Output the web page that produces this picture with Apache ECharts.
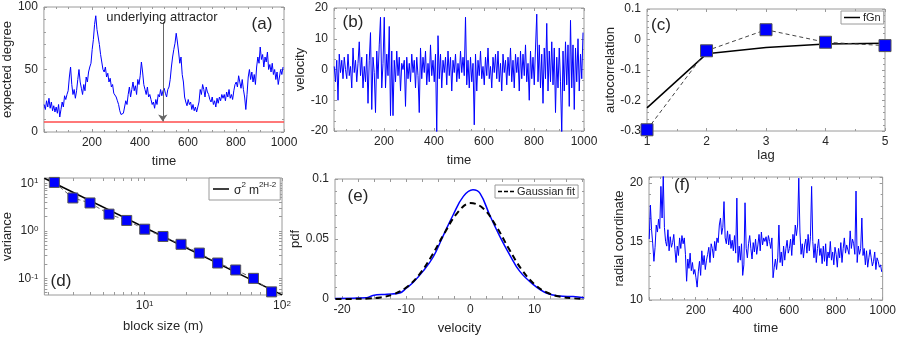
<!DOCTYPE html>
<html>
<head>
<meta charset="utf-8">
<script src="https://cdn.jsdelivr.net/npm/echarts@6/dist/echarts.min.js"></script>
<style>
  html, body { margin: 0; padding: 0; background: #fff; }
  #main { width: 899px; height: 338px; }
</style>
</head>
<body>
<div id="main"></div>
<script>
var font = 'Liberation Sans, Arial, sans-serif';
var ink = '#262626';
var boxGrey = '#9a9a9a';
var blue = '#0000ff';

// (a) expected degree, one value every 5 time steps
var degree = [
  22,18,25,20,27,19,24,17,21,16, 20,15,22,12,18,24,20,29,26,30,
  33,44,52,38,30,34,27,33,42,50, 40,35,30,38,33,44,40,48,52,55,
  66,74,86,93,82,76,70,62,56,50, 48,52,44,47,40,43,36,38,31,30,
  28,25,22,17,14,13,15,20,25,22, 30,36,28,34,40,33,37,30,42,38,
  45,56,48,38,34,30,36,28,30,26, 22,24,19,26,22,30,28,34,29,33,
  35,31,28,34,36,42,52,60,66,71, 79,72,64,55,60,46,40,28,24,21,
  26,22,24,18,22,17,20,16,20,24, 34,30,38,34,28,36,32,30,26,24,
  28,22,25,20,27,23,28,25,30,27, 30,25,32,28,34,27,30,26,33,38,
  40,36,45,40,35,42,34,28,18,30, 44,50,42,48,40,46,38,52,60,55,
  68,58,62,52,60,56,64,50,54,48, 55,46,50,42,48,38,44,50,46,52
];
var attractor = 8;
var arrowTime = 495, arrowTop = 88, arrowTip = 8.5;

// (b) velocity
var velocity = [
  1,-4,3,-10,5,-1,3,-3,4,0, -3,5,-2,1,-6,7,-1,3,-4,2,
  9,-2,4,-6,1,-4,5,-11,3,12, -13,4,-1,-14,6,-3,8,17,-6,2,
  17,-6,5,-2,14,-15,6,-15,3,-4, 6,-2,4,-7,2,0,3,-12,4,-3,
  2,-4,5,-1,3,-6,4,-2,-14,7, -3,4,-1,6,-5,2,-4,8,-2,3,
  -4,5,-21,11,-3,5,-6,3,-1,4, -5,6,-2,4,-7,3,-1,5,-4,2,
  -3,6,-1,4,-2,17,-5,3,-6,4, -4,2,-18,5,-7,3,-2,6,-3,1,
  -5,4,-2,7,-3,1,-6,4,-1,5, -3,6,-4,2,-7,5,-1,3,-5,4,
  -2,7,-4,3,-6,5,-1,4,-7,6, -3,5,-2,8,-4,2,-10,6,-3,4,
  -5,7,18,-4,8,-6,5,-11,7,-3, 15,-7,6,-4,9,-5,7,-14,4,-6,
  7,-4,-21,6,-7,9,-5,8,-12,16, -6,8,-13,7,-4,10,-7,5,-3,12
];

// (c) autocorrelation
var lags = [1, 2, 3, 4, 5];
var acfData = [-0.296, -0.037, 0.032, -0.009, -0.02];
var acfFgn = [-0.224, -0.047, -0.026, -0.015, -0.012];

// (d) aggregated variance
var blockSize = [2.2, 3.0, 4.0, 5.5, 7.4, 10, 13.6, 18.4, 25, 34, 46, 62, 84];
var blockVar = [10.4, 4.9, 3.85, 2.24, 1.65, 1.08, 0.76, 0.52, 0.34, 0.21, 0.15, 0.10, 0.052];
var fitSize = [1.86, 100];
var fitVar = [12.7, 0.045];

// (e) velocity pdf
var pdfVel = [-21.1,-16.2,-15.2,-13,-11,-10,-8.9,-7.4,-5.8,-4.3,-2.7,-1.1,0.4,1.5,3,4.6,6.1,7.7,9.8,11.8,13.9,16,17.7];
var pdfVal = [0.0005,0.001,0.003,0.004,0.005,0.009,0.014,0.023,0.035,0.052,0.070,0.0855,0.091,0.088,0.070,0.052,0.037,0.023,0.012,0.005,0.0025,0.002,0.001];
var gaussVel = [-21,-18,-16,-14,-12,-10,-8,-6,-4,-2,0,2,4,6,8,10,12,14,16,17.7];
var gaussVal = [0.00001,0.0001,0.0004,0.0013,0.0039,0.0096,0.0202,0.0362,0.0553,0.072,0.0799,0.0755,0.0608,0.0418,0.0244,0.0122,0.0052,0.0019,0.0006,0.0002];

// (f) radial coordinate
var radial = [
  15.2,18.1,16,14.8,13.3,14.5,16.4,15.8,16.9,16.1, 19.7,17,20.6,16.2,15,14.6,16,14.2,15.4,14.5,
  14.9,15.6,14.3,13.2,14.6,13.8,15.3,14.4,15.5,14.8, 15.3,13.9,11.6,13.5,12.7,14,12.5,13.2,12.2,12.6,
  11.9,11.1,12.4,13.3,12.1,14.2,13,13.8,12.6,13.4, 13.9,14.5,13.2,14.8,14.4,13.6,15,14.2,15.3,14.9,
  16.4,17,15.6,16.2,18.4,15.3,14.8,15.9,14.7,15.6, 14.4,15.1,14.2,15.5,14,18.7,13.2,14.6,13.4,14.8,
  12.1,13,18.3,14.4,13.6,14.8,15.5,14.4,13.5,14.9, 14.1,15.2,13.9,14.7,15.6,14.2,15.8,14.7,15.3,15,
  15.4,14.6,15.5,15,14.4,15.3,11.9,12.8,13.5,12.6, 13.6,16.4,13.2,14.1,12.9,14.6,13.4,14.4,15.1,14,
  14.4,15.2,13.8,15.6,14.7,16.4,15.5,16.4,20.4,15.8, 13.9,14.8,13.6,14.7,15.2,14,15.6,14.2,15.4,19.7,
  15,13.6,14.8,13.2,14.4,15.2,13.8,14.4,13.1,14.6, 13.3,14.8,12.9,14.1,13.6,15,13.4,14.1,13,14.5,
  13.9,12.8,14.4,13.6,14.9,13.2,14.4,15.3,14,14.7, 14.7,13.9,15.9,14.4,15.2,14.8,13.9,19.3,13.2,14.6,
  13.9,14.4,17,13.8,14.4,13,14.2,12.8,13.6,14.3, 13.6,12.9,13.3,14.1,12.6,13.6,13.3,12.8,13,12.4
];

var velTicks = [-20, -10, 0, 10];
var velMinor = [-20, -17.5, -15, -12.5, -10, -7.5, -5, -2.5, 0, 2.5, 5, 7.5, 10, 12.5, 15, 17.5];
var logLabelsX = [1, 2];
var logLabelsY = [-1, 0, 1];

function timed(vals) {
  return vals.map(function (v, i) { return [1 + 5 * i, v]; });
}
function pairs(xs, ys) {
  return xs.map(function (x, i) { return [x, ys[i]]; });
}
function logPairs(xs, ys) {
  return xs.map(function (x, i) { return [Math.log10(x), Math.log10(ys[i])]; });
}
// log10 positions of the minor ticks of a log axis inside [lo, hi]
function logTicks(lo, hi) {
  var out = [];
  for (var e = -2; e <= 2; e++) {
    for (var k = 1; k <= 9; k++) {
      var v = Math.log10(k) + e;
      if (v >= lo && v <= hi) out.push(v);
    }
  }
  return out;
}
var supRich = { sup: { fontSize: 8, verticalAlign: 'top', lineHeight: 10, fontFamily: font, color: ink } };
function powLabel(v) { return '10{sup|' + Math.round(v) + '}'; }
function plainLabel(v) { return String(v); }

function axisPair(dim, gi, o) {
  function make(mirror) {
    var ax = {
      type: 'value', gridIndex: gi,
      position: dim === 'x' ? (mirror ? 'top' : 'bottom') : (mirror ? 'right' : 'left'),
      min: o.min, max: o.max,
      axisLine: { show: false, onZero: false },
      splitLine: { show: false },
      axisTick: { show: true, inside: true, length: 3, lineStyle: { color: boxGrey } },
      minorTick: { show: !!o.minor, splitNumber: o.minor || 5, length: 2, lineStyle: { color: boxGrey } },
      axisLabel: {
        show: !mirror, color: ink, fontSize: 12, fontFamily: font,
        margin: dim === 'x' ? 5 : 6, formatter: plainLabel
      }
    };
    if (o.interval != null) ax.interval = o.interval;
    if (o.showMin === false) ax.axisLabel.showMinLabel = false;
    if (o.showMax === false) ax.axisLabel.showMaxLabel = false;
    if (o.ticks) ax.axisTick.customValues = o.ticks;
    if (o.labels) ax.axisLabel.customValues = o.labels;
    if (o.formatter) { ax.axisLabel.formatter = o.formatter; ax.axisLabel.rich = supRich; }
    if (!mirror && o.name) {
      ax.name = o.name;
      ax.nameLocation = 'middle';
      ax.nameGap = o.gap;
      ax.nameTextStyle = { color: ink, fontSize: 13, fontFamily: font };
    }
    return ax;
  }
  return [make(false), make(true)];
}

var xAxes = [].concat(
  axisPair('x', 0, { min: 0, max: 1000, interval: 200, minor: 4, showMin: false, name: 'time', gap: 23 }),
  axisPair('x', 1, { min: 0, max: 1000, interval: 200, minor: 4, showMin: false, name: 'time', gap: 23 }),
  axisPair('x', 2, { min: 1, max: 5, interval: 1, minor: 2, name: 'lag', gap: 17 }),
  axisPair('x', 3, { min: Math.log10(1.86), max: 2, labels: logLabelsX, ticks: logTicks(0.27, 2), formatter: powLabel, name: 'block size (m)', gap: 25 }),
  axisPair('x', 4, { min: -21.1, max: 17.7, labels: velTicks, ticks: velMinor, name: 'velocity', gap: 23 }),
  axisPair('x', 5, { min: 0, max: 1000, interval: 200, minor: 4, showMin: false, name: 'time', gap: 22 })
);
var yAxes = [].concat(
  axisPair('y', 0, { min: 0, max: 100, interval: 50, minor: 5, name: 'expected degree', gap: 25 }),
  axisPair('y', 1, { min: -20, max: 20, interval: 10, minor: 3, name: 'velocity', gap: 25 }),
  axisPair('y', 2, { min: -0.3, max: 0.1, interval: 0.1, minor: 5, name: 'autocorrelation', gap: 28 }),
  axisPair('y', 3, { min: -1.35, max: 1.11, labels: logLabelsY, ticks: logTicks(-1.35, 1.11), formatter: powLabel, name: 'variance', gap: 25 }),
  axisPair('y', 4, { min: 0, max: 0.1, interval: 0.05, minor: 5, name: 'pdf', gap: 27 }),
  axisPair('y', 5, { min: 10, max: 20.5, interval: 5, minor: 5, showMax: false, name: 'radial coordinate', gap: 21 })
);

function gridBox(left, top, width, height) {
  return { left: left, top: top, width: width, height: height, show: true, borderColor: boxGrey, borderWidth: 1, backgroundColor: 'transparent' };
}

function panelLabel(text, x, y) {
  return {
    text: text, left: x, top: y, padding: 0,
    textAlign: 'center', textVerticalAlign: 'middle',
    textStyle: { fontSize: 17, fontWeight: 'normal', color: ink, fontFamily: font }
  };
}

var dashIcon = 'path://M0,0h6v2h-6z M9,0h6v2h-6z M18,0h6v2h-6z';

var legendBase = {
  orient: 'horizontal', padding: [1, 3], itemWidth: 16, itemHeight: 1.5, icon: 'rect',
  backgroundColor: '#fff', borderColor: boxGrey, borderWidth: 1, selectedMode: false,
  textStyle: { fontSize: 11, color: ink, fontFamily: font, padding: [0, 0, 0, -2] }
};
function legendAt(name, left, top, extra) {
  return Object.assign({}, legendBase, { data: [name], left: left, top: top }, extra || {});
}

var squareStyle = { color: blue, borderColor: '#555', borderWidth: 1 };

var option = {
  animation: false,
  backgroundColor: '#fff',
  grid: [
    gridBox(42, 7, 242, 125),
    gridBox(334, 8, 250, 123),
    gridBox(647, 9, 238, 122),
    gridBox(42, 178, 240, 117),
    gridBox(335, 179, 249, 120),
    gridBox(649, 177, 234, 123)
  ],
  xAxis: xAxes,
  yAxis: yAxes,
  title: [
    panelLabel('(a)', 262, 24),
    panelLabel('(b)', 353, 22),
    panelLabel('(c)', 661, 25),
    panelLabel('(d)', 61, 281),
    panelLabel('(e)', 358, 196),
    panelLabel('(f)', 682, 185),
    {
      text: 'underlying attractor', left: 162, top: 17, padding: 0,
      textAlign: 'center', textVerticalAlign: 'middle',
      textStyle: { fontSize: 13, fontWeight: 'normal', color: ink, fontFamily: font }
    }
  ],
  legend: [
    legendAt('fGn', 841, 11),
    legendAt('fit', 209, 178, {
      padding: [3, 4],
      formatter: function () { return '{b|σ}{sup|2} {b|m}{sup|2H-2}'; },
      textStyle: {
        fontSize: 11, color: ink, fontFamily: font,
        rich: {
          b: { fontSize: 12, color: ink, fontFamily: font, lineHeight: 16, verticalAlign: 'bottom' },
          sup: { fontSize: 8, color: ink, fontFamily: font, lineHeight: 10, verticalAlign: 'top' }
        }
      }
    }),
    legendAt('Gaussian fit', 495, 185, { icon: dashIcon, itemHeight: 2 })
  ],
  series: [
    // (a)
    {
      name: 'degree', type: 'line', xAxisIndex: 0, yAxisIndex: 0, data: timed(degree),
      symbol: 'none', lineStyle: { color: blue, width: 1 }, itemStyle: { color: blue },
      markLine: {
        silent: true, symbol: ['none', 'arrow'], symbolSize: 7, label: { show: false },
        lineStyle: { color: '#666', width: 1, type: 'solid' },
        data: [[{ coord: [arrowTime, arrowTop] }, { coord: [arrowTime, arrowTip] }]]
      }
    },
    {
      name: 'attractor', type: 'line', xAxisIndex: 0, yAxisIndex: 0,
      data: [[0, attractor], [1000, attractor]],
      symbol: 'none', lineStyle: { color: '#ff4d4d', width: 1.5 }
    },
    // (b)
    {
      name: 'velocity', type: 'line', xAxisIndex: 2, yAxisIndex: 2, data: timed(velocity),
      symbol: 'none', lineStyle: { color: blue, width: 1 }
    },
    // (c)
    {
      name: 'fGn', type: 'line', xAxisIndex: 4, yAxisIndex: 4, data: pairs(lags, acfFgn),
      symbol: 'none', lineStyle: { color: '#000', width: 1.5 }, itemStyle: { color: '#000' }
    },
    {
      name: 'acf', type: 'line', xAxisIndex: 4, yAxisIndex: 4, data: pairs(lags, acfData),
      symbol: 'rect', symbolSize: 12, showAllSymbol: true,
      lineStyle: { color: '#444', width: 1, type: [4, 3] }, itemStyle: squareStyle
    },
    // (d)
    {
      name: 'fit', type: 'line', xAxisIndex: 6, yAxisIndex: 6, data: logPairs(fitSize, fitVar),
      symbol: 'none', lineStyle: { color: '#000', width: 1.5 }, itemStyle: { color: '#000' }
    },
    {
      name: 'blocks', type: 'line', xAxisIndex: 6, yAxisIndex: 6, data: logPairs(blockSize, blockVar),
      symbol: 'rect', symbolSize: 10, showAllSymbol: true,
      lineStyle: { color: '#666', width: 1, type: [4, 3] }, itemStyle: squareStyle
    },
    // (e)
    {
      name: 'pdf', type: 'line', xAxisIndex: 8, yAxisIndex: 8, data: pairs(pdfVel, pdfVal),
      symbol: 'none', smooth: 0.4, lineStyle: { color: blue, width: 1.5 }
    },
    {
      name: 'Gaussian fit', type: 'line', xAxisIndex: 8, yAxisIndex: 8, data: pairs(gaussVel, gaussVal),
      symbol: 'none', smooth: 0.4, lineStyle: { color: '#000', width: 2, type: [6, 4] }, itemStyle: { color: '#000' }
    },
    // (f)
    {
      name: 'radial', type: 'line', xAxisIndex: 10, yAxisIndex: 10, data: timed(radial),
      symbol: 'none', lineStyle: { color: blue, width: 1 }
    }
  ]
};

var myChart = echarts.init(document.getElementById('main'));
myChart.setOption(option);
</script>
</body>
</html>
